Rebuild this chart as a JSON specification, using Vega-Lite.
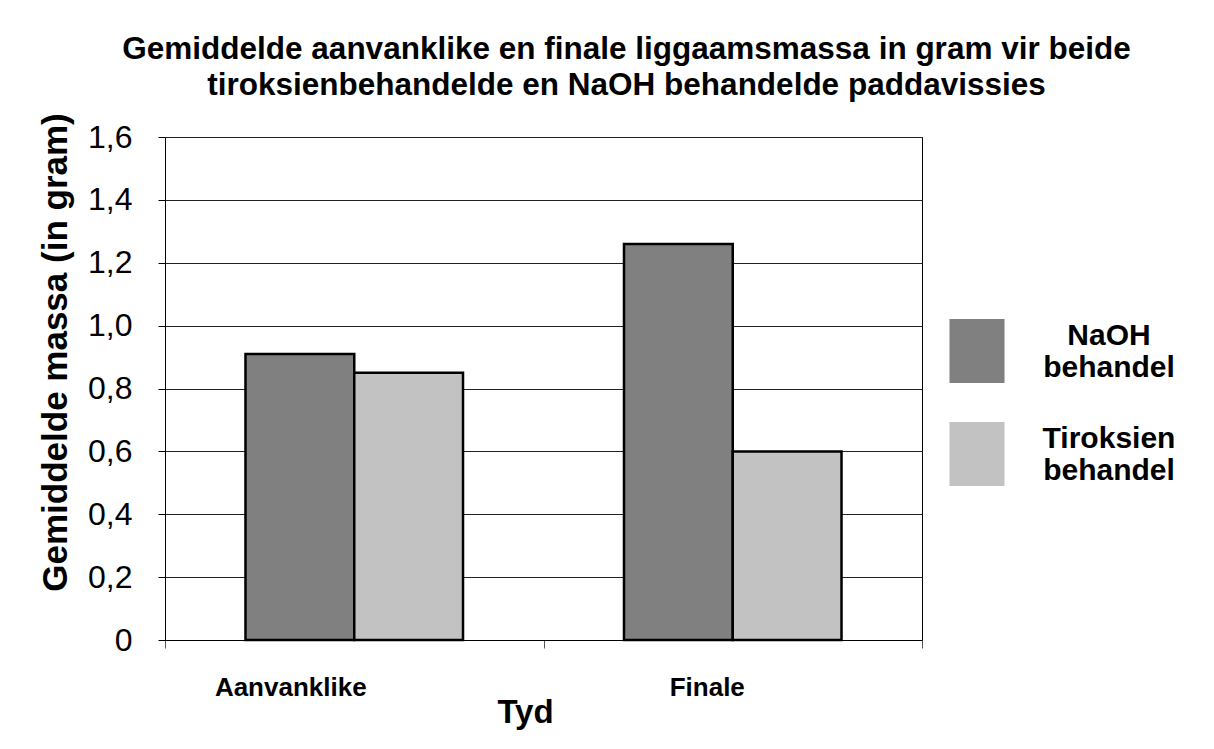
{
  "$schema": "https://vega.github.io/schema/vega-lite/v6.json",
  "autosize": "none",
  "width": 757,
  "height": 503,
  "padding": {"left": 165, "top": 137, "right": 292, "bottom": 109},
  "background": "white",
  "title": {
    "text": ["Gemiddelde aanvanklike en finale liggaamsmassa in gram vir beide", "tiroksienbehandelde en NaOH behandelde paddavissies"],
    "font": "Liberation Sans",
    "fontSize": 31.5,
    "fontWeight": "bold",
    "color": "black",
    "lineHeight": 36,
    "anchor": "middle",
    "frame": "group",
    "dx": 83,
    "offset": 11
  },
  "data": {
    "values": [
      {"Tyd": "Aanvanklike", "Groep": "NaOH behandel", "Massa": 0.91},
      {"Tyd": "Aanvanklike", "Groep": "Tiroksien behandel", "Massa": 0.85},
      {"Tyd": "Finale", "Groep": "NaOH behandel", "Massa": 1.26},
      {"Tyd": "Finale", "Groep": "Tiroksien behandel", "Massa": 0.60}
    ]
  },
  "mark": {"type": "bar", "stroke": "black", "strokeWidth": 2.5},
  "encoding": {
    "x": {
      "field": "Tyd",
      "type": "nominal",
      "sort": ["Aanvanklike", "Finale"],
      "scale": {"paddingInner": 0, "paddingOuter": 0},
      "axis": {
        "title": "Tyd",
        "titleFont": "Liberation Sans",
        "titleFontSize": 33,
        "titleFontWeight": "bold",
        "titleColor": "black",
        "titleX": 360,
        "titleY": 82,
        "titleAlign": "center",
        "titleBaseline": "alphabetic",
        "labelAngle": 0,
        "labelFont": "Liberation Sans",
        "labelFontSize": 26,
        "labelFontWeight": "bold",
        "labelColor": "black",
        "labelPadding": 26,
        "labelOffset": {"condition": {"test": "datum.value === 'Aanvanklike'", "value": -64}, "value": -26},
        "tickBand": "extent",
        "tickSize": 8,
        "tickColor": "#555",
        "domainColor": "black",
        "grid": false
      }
    },
    "xOffset": {
      "field": "Groep",
      "type": "nominal",
      "sort": ["NaOH behandel", "Tiroksien behandel"],
      "scale": {"paddingInner": 0, "paddingOuter": 0.74}
    },
    "y": {
      "field": "Massa",
      "type": "quantitative",
      "scale": {"domain": [0, 1.6], "nice": false},
      "axis": {
        "title": "Gemiddelde massa (in gram)",
        "titleFont": "Liberation Sans",
        "titleFontSize": 35,
        "titleFontWeight": "bold",
        "titleColor": "black",
        "titleX": -110,
        "titleY": 215,
        "titleAngle": 270,
        "titleAlign": "center",
        "titleBaseline": "middle",
        "values": [0, 0.2, 0.4, 0.6, 0.8, 1.0, 1.2, 1.4, 1.6],
        "labelExpr": "datum.value == 0 ? '0' : replace(format(datum.value, '.1f'), '.', ',')",
        "labelFont": "Liberation Sans",
        "labelFontSize": 32,
        "labelColor": "black",
        "labelPadding": 26,
        "tickSize": 7,
        "tickColor": "black",
        "domainColor": "black",
        "grid": true,
        "gridColor": "#222",
        "gridWidth": 1
      }
    },
    "fill": {
      "field": "Groep",
      "type": "nominal",
      "scale": {"domain": ["NaOH behandel", "Tiroksien behandel"], "range": ["#808080", "#c2c2c2"]},
      "legend": {
        "title": null,
        "orient": "none",
        "legendX": 780,
        "legendY": 182,
        "symbolType": "M-0.86,-1H0.86V1H-0.86Z",
        "symbolSize": 4096,
        "symbolStrokeWidth": 0,
        "labelExpr": "split(datum.label, ' ')",
        "labelFont": "Liberation Sans",
        "labelFontSize": 30,
        "labelFontWeight": "bold",
        "labelColor": "black",
        "labelLineHeight": 36,
        "labelAlign": "center",
        "labelBaseline": "bottom",
        "labelOffset": 100,
        "labelLimit": 400,
        "rowPadding": 39
      }
    }
  },
  "config": {
    "view": {"stroke": "black", "strokeWidth": 1}
  }
}
